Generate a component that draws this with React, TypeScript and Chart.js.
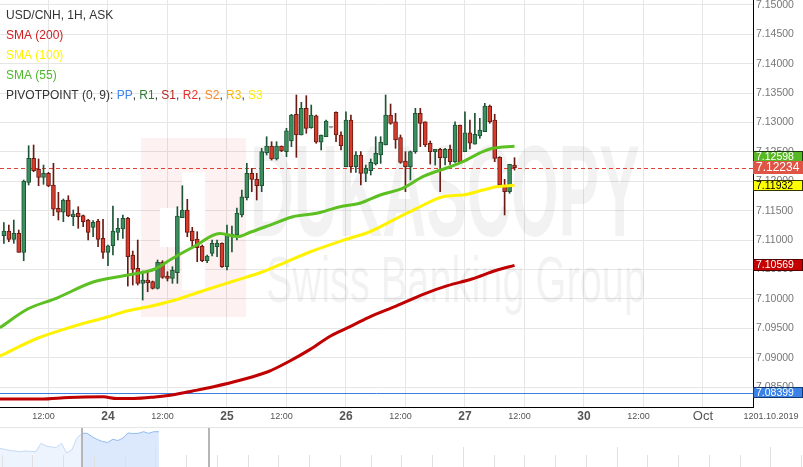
import React, { useEffect, useRef } from "react";
import { Chart, registerables } from "chart.js";
Chart.register(...registerables);

// ---------- data ----------
const FIRST_HOUR = 3; // trading hour index of first candle (23 Sep 03:00)
const opens = [
  7.11074, 7.11154, 7.11013, 7.11115, 7.10792, 7.11983, 7.12391, 7.12209, 7.12068, 7.12136,
  7.11937, 7.11541, 7.11473, 7.11682, 7.11398, 7.11456, 7.11415, 7.11341, 7.11217, 7.11325,
  7.11030, 7.10792, 7.10904, 7.11132, 7.11188, 7.11370, 7.10746, 7.10520, 7.10264, 7.10321,
  7.10292, 7.10179, 7.10622, 7.10389, 7.10349, 7.10445, 7.11381, 7.11512, 7.11154, 7.11018,
  7.10899, 7.10649, 7.10775, 7.10887, 7.10945, 7.10547, 7.11052, 7.11086, 7.11427, 7.11721,
  7.12136, 7.12034, 7.11925, 7.12487, 7.12601, 7.12380, 7.12601, 7.12504, 7.12686, 7.13140,
  7.12788, 7.13242, 7.12912, 7.13116, 7.12664, 7.12759, 7.12919, 7.13174, 7.12788, 7.12248,
  7.13043, 7.12248, 7.12448, 7.12136, 7.12180, 7.12294, 7.12448, 7.12618, 7.13128, 7.13014,
  7.12742, 7.12345, 7.12248, 7.12504, 7.13157, 7.13014, 7.12647, 7.12504, 7.12545, 7.12402,
  7.12545, 7.12334, 7.12958, 7.12504, 7.12827, 7.12630, 7.12771, 7.12844, 7.13281, 7.13043,
  7.12408, 7.11937, 7.11823, 7.12277,
];
const highs = [
  7.11296, 7.11256, 7.11341, 7.11171, 7.12022, 7.12606, 7.12618, 7.12380, 7.12277, 7.12153,
  7.12306, 7.11813, 7.11699, 7.11755, 7.11512, 7.11568, 7.11427, 7.11353, 7.11330, 7.11353,
  7.11353, 7.10916, 7.11580, 7.11370, 7.11427, 7.11387, 7.10814, 7.11001, 7.10474, 7.10474,
  7.10304, 7.10661, 7.10649, 7.10462, 7.10547, 7.11568, 7.11925, 7.11694, 7.11217, 7.11142,
  7.10916, 7.10746, 7.11001, 7.11001, 7.10955, 7.11256, 7.11239, 7.11546, 7.11852, 7.12306,
  7.12221, 7.12136, 7.12562, 7.12759, 7.12674, 7.12674, 7.12601, 7.12902, 7.13140, 7.13469,
  7.13344, 7.13457, 7.13298, 7.13128, 7.12788, 7.13043, 7.12930, 7.13184, 7.12844, 7.13184,
  7.13128, 7.12504, 7.12504, 7.12277, 7.12380, 7.12759, 7.12759, 7.13469, 7.13315, 7.13157,
  7.12788, 7.12504, 7.12516, 7.13242, 7.13242, 7.13014, 7.12686, 7.12545, 7.12562, 7.12562,
  7.12618, 7.13014, 7.12958, 7.13184, 7.13043, 7.13157, 7.13072, 7.13327, 7.13298, 7.13140,
  7.12419, 7.12034, 7.12289, 7.12402,
];
const lows = [
  7.10945, 7.10972, 7.10945, 7.10792, 7.10649, 7.11937, 7.12163, 7.11925, 7.11949, 7.11908,
  7.11415, 7.11341, 7.11313, 7.11398, 7.11245, 7.11200, 7.11228, 7.11001, 7.11057, 7.10887,
  7.10690, 7.10564, 7.10746, 7.11001, 7.11030, 7.10218, 7.10235, 7.10235, 7.09980, 7.10121,
  7.10167, 7.10167, 7.10349, 7.10304, 7.10264, 7.10264, 7.11381, 7.11057, 7.10860, 7.10632,
  7.10632, 7.10615, 7.10729, 7.10717, 7.10537, 7.10491, 7.10797, 7.11001, 7.11393, 7.11682,
  7.11823, 7.11682, 7.11823, 7.12448, 7.12362, 7.12362, 7.12504, 7.12419, 7.12589, 7.12408,
  7.12788, 7.12817, 7.12902, 7.12647, 7.12533, 7.12759, 7.12908, 7.12674, 7.12533, 7.12248,
  7.12153, 7.12153, 7.11937, 7.11993, 7.12107, 7.12277, 7.12306, 7.12618, 7.12970, 7.12562,
  7.12306, 7.11823, 7.12022, 7.12476, 7.12589, 7.12589, 7.12294, 7.12277, 7.11823, 7.12277,
  7.12289, 7.12323, 7.12323, 7.12504, 7.12550, 7.12630, 7.12732, 7.12844, 7.12987, 7.12334,
  7.11908, 7.11427, 7.11796, 7.12192,
];
const closes = [
  7.11154, 7.11013, 7.11115, 7.10792, 7.12005, 7.12391, 7.12180, 7.12068, 7.12136, 7.11920,
  7.11524, 7.11473, 7.11682, 7.11410, 7.11444, 7.11398, 7.11313, 7.11132, 7.11302, 7.11013,
  7.10792, 7.10904, 7.11154, 7.11200, 7.11370, 7.10717, 7.10503, 7.10264, 7.10321, 7.10275,
  7.10179, 7.10622, 7.10366, 7.10349, 7.10491, 7.11410, 7.11512, 7.11132, 7.10989, 7.10870,
  7.10649, 7.10729, 7.10945, 7.10945, 7.10547, 7.11086, 7.11103, 7.11461, 7.11738, 7.12136,
  7.12034, 7.11925, 7.12504, 7.12601, 7.12380, 7.12601, 7.12516, 7.12861, 7.13128, 7.12788,
  7.13242, 7.12902, 7.13128, 7.12664, 7.12788, 7.13026, 7.12919, 7.12788, 7.12606, 7.13043,
  7.12248, 7.12448, 7.12136, 7.12221, 7.12323, 7.12476, 7.12664, 7.13128, 7.12987, 7.12703,
  7.12323, 7.12248, 7.12504, 7.13157, 7.12987, 7.12618, 7.12504, 7.12545, 7.12402, 7.12545,
  7.12334, 7.12958, 7.12334, 7.12827, 7.12647, 7.12800, 7.12873, 7.13281, 7.13014, 7.12391,
  7.11937, 7.11823, 7.12289, 7.12234,
];

const sma55Hours = [2.2, 7.8, 13.7, 21, 28.6, 33.5, 36.9, 41.2, 46.6, 50.1, 52.8, 56.7, 61.3, 66.1, 70.8, 74.8, 78.9, 83.5, 87.5, 93, 95.6, 99.6, 101.6, 106];
const sma55Values = [7.09509, 7.09827, 7.10014, 7.10287, 7.10414, 7.10508, 7.10683, 7.10882, 7.11112, 7.11061, 7.11137, 7.11256, 7.11398, 7.11456, 7.11568, 7.11626, 7.11767, 7.11886, 7.12078, 7.12248, 7.12334, 7.12504, 7.12562, 7.12598];
const sma100Hours = [2.2, 9.9, 16.1, 23.8, 27.8, 32.8, 37.6, 43.2, 49.4, 55.1, 59.9, 64.7, 71.6, 76.8, 82.2, 86.3, 91.6, 95.6, 99.6, 102.4, 106];
const sma100Values = [7.09027, 7.09334, 7.09509, 7.09691, 7.09793, 7.09878, 7.0998, 7.10138, 7.10304, 7.10457, 7.10627, 7.10797, 7.11001, 7.11142, 7.1137, 7.11541, 7.11738, 7.11767, 7.11852, 7.11908, 7.11932];
const sma200Hours = [2.2, 10.5, 16.1, 23, 25.8, 29.2, 33.5, 36.9, 41.1, 45.3, 50.8, 56.4, 60.5, 64.7, 68.9, 72.4, 76.5, 82.1, 87.7, 92.5, 97.4, 102.2, 106];
const sma200Values = [7.08296, 7.08296, 7.08323, 7.08333, 7.08304, 7.08304, 7.0833, 7.08364, 7.08432, 7.08505, 7.08619, 7.08764, 7.08935, 7.09136, 7.09368, 7.09509, 7.09681, 7.09878, 7.10082, 7.10224, 7.10338, 7.10482, 7.10569];

const yTickValues = [7.085, 7.09, 7.095, 7.1, 7.105, 7.11, 7.115, 7.12, 7.125, 7.13, 7.135, 7.14, 7.145, 7.15];
const xTickHours = [12, 24, 36, 48, 60, 72, 84, 96, 108, 120, 132, 144];
const xTickLabels = ["12:00", "24", "12:00", "25", "12:00", "26", "12:00", "27", "12:00", "30", "12:00", "Oct"];

const lastPrice = 7.12234;
const pivotPP = 7.08399;
const sma55Last = 7.12598;
const sma100Last = 7.11932;
const sma200Last = 7.10569;

const navLevels = [18.7, 17.5, 16.5, 16, 15.3, 16, 15.5, 15.3, 23.7, 21, 20, 19.5, 23.7, 14, 17, 29, 33.7, 33.7, 30.3, 27.5, 25.5, 24.5, 27.7, 26.5, 29, 34, 33.5, 33.7, 35.3, 33.7, 35.3, 35.3];
const NAV_SPLIT = 16;

const X_MIN = 2.22, X_MAX = 154.1, Y_MIN = 7.0816, Y_MAX = 7.15085;
const FONT = "'Liberation Sans', Arial, sans-serif";

const GREEN_FILL = "#3b8f5e", GREEN_EDGE = "#1d5435";
const RED_FILL = "#d63b2b", RED_EDGE = "#6a1a12";

// ---------- plugins ----------
const backgroundPlugin = {
  id: "bgMarks",
  beforeDatasetsDraw(chart: any) {
    const { ctx, chartArea: a, scales } = chart;
    ctx.save();
    ctx.beginPath();
    ctx.rect(a.left, a.top, a.right - a.left, a.bottom - a.top);
    ctx.clip();
    // watermark logo
    ctx.fillStyle = "rgba(225,70,60,0.07)";
    ctx.fillRect(141, 138, 105, 179);
    ctx.fillStyle = "#ffffff";
    ctx.fillRect(182, 172, 23, 118);
    ctx.fillRect(160, 208, 22, 39);
    // watermark text
    ctx.fillStyle = "rgba(0,0,0,0.05)";
    ctx.textBaseline = "alphabetic";
    ctx.font = `bold 130px ${FONT}`;
    let w = ctx.measureText("DUKASCOPY").width;
    ctx.save();
    ctx.translate(250, 236);
    ctx.scale(390 / w, 1);
    ctx.fillText("DUKASCOPY", 0, 0);
    ctx.restore();
    ctx.font = `64px ${FONT}`;
    w = ctx.measureText("Swiss Banking Group").width;
    ctx.save();
    ctx.translate(266, 302);
    ctx.scale(380 / w, 1);
    ctx.fillText("Swiss Banking Group", 0, 0);
    ctx.restore();
    // pivot line
    const yP = Math.round(scales.y.getPixelForValue(pivotPP)) + 0.5;
    ctx.strokeStyle = "#3c7fe0";
    ctx.lineWidth = 1;
    ctx.beginPath();
    ctx.moveTo(a.left, yP);
    ctx.lineTo(a.right, yP);
    ctx.stroke();
    // current price dashed line
    const yL = Math.round(scales.y.getPixelForValue(lastPrice)) + 0.5;
    ctx.strokeStyle = "#e0402f";
    ctx.setLineDash([4, 3]);
    ctx.beginPath();
    ctx.moveTo(a.left, yL);
    ctx.lineTo(a.right, yL);
    ctx.stroke();
    ctx.restore();
  },
};

const overlayPlugin = {
  id: "overlay",
  afterDraw(chart: any) {
    const { ctx, scales, chartArea: a } = chart;
    ctx.save();
    // legend
    ctx.textBaseline = "middle";
    ctx.textAlign = "left";
    ctx.font = `12px ${FONT}`;
    const lines: [string, string][][] = [
      [["USD/CNH, 1H, ASK", "#333333"]],
      [["SMA (200)", "#cc1f1f"]],
      [["SMA (100)", "#fff200"]],
      [["SMA (55)", "#4fb82a"]],
      [
        ["PIVOTPOINT (0, 9): ", "#333333"], ["PP", "#3d85e6"], [", ", "#333333"], ["R1", "#2e7d32"],
        [", ", "#333333"], ["S1", "#b3261e"], [", ", "#333333"], ["R2", "#e8312a"], [", ", "#333333"],
        ["S2", "#f7862a"], [", ", "#333333"], ["R3", "#f9b800"], [", ", "#333333"], ["S3", "#ffee00"],
      ],
    ];
    const ys = [15.5, 35.5, 56, 76, 96];
    lines.forEach((parts, li) => {
      let x = 6;
      parts.forEach(([t, c]) => {
        ctx.fillStyle = c;
        ctx.fillText(t, x, ys[li]);
        x += ctx.measureText(t).width;
      });
    });
    // right value tags
    const y = scales.y;
    const left = a.right;
    const priceY = y.getPixelForValue(lastPrice);
    const tag = (cy: number, h: number, text: string, bg: string, fg: string, border: string | null, size: number) => {
      const top = Math.round(cy - h / 2);
      ctx.fillStyle = bg;
      ctx.fillRect(left, top, 50, h);
      if (border) {
        ctx.strokeStyle = border;
        ctx.lineWidth = 1;
        ctx.strokeRect(left + 0.5, top + 0.5, 49, h - 1);
      }
      ctx.fillStyle = fg;
      ctx.font = `${size}px ${FONT}`;
      ctx.textAlign = "left";
      ctx.textBaseline = "middle";
      ctx.fillText(text, left + 3, top + h / 2 + 0.5);
    };
    tag(priceY - 6.5 - 5, 11, sma55Last.toFixed(5), "#58b823", "#ffffff", "#1e3a10", 10.5);
    tag(y.getPixelForValue(sma100Last), 11, sma100Last.toFixed(5), "#ffff00", "#000000", "#333300", 10.5);
    tag(y.getPixelForValue(sma200Last), 12, sma200Last.toFixed(5), "#c40000", "#ffffff", "#500000", 10.5);
    tag(y.getPixelForValue(pivotPP), 11, pivotPP.toFixed(5), "#3a82e8", "#ffffff", "#123a70", 10.5);
    tag(priceY, 13, lastPrice.toFixed(5), "#df5444", "#ffffff", null, 12);
    // date label at right of time axis
    ctx.fillStyle = "#555555";
    ctx.font = `9px ${FONT}`;
    ctx.textAlign = "center";
    ctx.textBaseline = "middle";
    ctx.fillText("1201.10.2019", 771, 416.5);
    ctx.restore();
  },
};

const navPlugin = {
  id: "navDeco",
  afterDraw(chart: any) {
    const { ctx, width, height } = chart;
    ctx.save();
    ctx.strokeStyle = "#e6e6e6";
    ctx.lineWidth = 1;
    ctx.beginPath();
    ctx.moveTo(0, 0.5);
    ctx.lineTo(width, 0.5);
    ctx.stroke();
    ctx.strokeStyle = "#e0e0e0";
    for (let k = 0; k < 27; k++) {
      const x = Math.round(1.7 + k * 30.75) + 0.5;
      const tall = k === 5 || k === 15 || k === 20 || k === 25;
      ctx.beginPath();
      ctx.moveTo(x, tall ? 20 : 28);
      ctx.lineTo(x, height);
      ctx.stroke();
    }
    ctx.strokeStyle = "#b5b5b5";
    ctx.lineWidth = 2;
    [82, 209].forEach((x) => {
      ctx.beginPath();
      ctx.moveTo(x, 1);
      ctx.lineTo(x, height);
      ctx.stroke();
    });
    ctx.restore();
  },
};

// ---------- component ----------
export default function App() {
  const mainRef = useRef<HTMLCanvasElement>(null);
  const navRef = useRef<HTMLCanvasElement>(null);

  useEffect(() => {
    const hours = opens.map((_, i) => FIRST_HOUR + i);
    const up = opens.map((o, i) => closes[i] > o);
    const doji = opens.map((o, i) => closes[i] === o);
    const fillC = up.map((u, i) => (doji[i] ? "#999999" : u ? GREEN_FILL : RED_FILL));
    const edgeC = up.map((u, i) => (doji[i] ? "#999999" : u ? GREEN_EDGE : RED_EDGE));

    const main = new Chart(mainRef.current!, {
      type: "bar",
      data: {
        datasets: [
          {
            type: "line",
            data: sma55Hours.map((h, i) => ({ x: h, y: sma55Values[i] })),
            borderColor: "#5cbf22",
            borderWidth: 3,
            pointRadius: 0,
            cubicInterpolationMode: "monotone",
            order: 0,
          } as any,
          {
            type: "line",
            data: sma100Hours.map((h, i) => ({ x: h, y: sma100Values[i] })),
            borderColor: "#fff200",
            borderWidth: 3,
            pointRadius: 0,
            cubicInterpolationMode: "monotone",
            order: 1,
          } as any,
          {
            type: "line",
            data: sma200Hours.map((h, i) => ({ x: h, y: sma200Values[i] })),
            borderColor: "#c00000",
            borderWidth: 3,
            pointRadius: 0,
            cubicInterpolationMode: "monotone",
            order: 2,
          } as any,
          {
            type: "bar",
            data: hours.map((h, i) => ({ x: h, y: [opens[i], closes[i]] })),
            backgroundColor: fillC,
            borderColor: edgeC,
            borderWidth: 1,
            borderSkipped: false,
            barThickness: 4,
            minBarLength: 1,
            grouped: false,
            order: 3,
          } as any,
          {
            type: "bar",
            data: hours.map((h, i) => ({ x: h, y: [lows[i], highs[i]] })),
            backgroundColor: edgeC,
            borderWidth: 0,
            barThickness: 1,
            grouped: false,
            order: 4,
          } as any,
        ],
      },
      options: {
        animation: false,
        responsive: false,
        devicePixelRatio: 1,
        layout: { padding: 0 },
        plugins: { legend: { display: false }, tooltip: { enabled: false } },
        scales: {
          x: {
            type: "linear",
            min: X_MIN,
            max: X_MAX,
            offset: false,
            afterBuildTicks: (s: any) => {
              s.ticks = xTickHours.map((v) => ({ value: v }));
            },
            afterFit: (s: any) => {
              s.height = 20;
              s.paddingLeft = 0;
              s.paddingRight = 0;
            },
            grid: { color: "#e6e6e6", drawTicks: false, offset: false },
            border: { color: "#000000", width: 1 },
            ticks: {
              autoSkip: false,
              maxRotation: 0,
              padding: 4,
              color: "#555555",
              callback: (v: any) => {
                const lab = xTickLabels[xTickHours.indexOf(v)] ?? "";
                return lab === "12:00" ? lab + "    " : lab;
              },
              font: (c: any) => {
                const i = xTickHours.indexOf(c.tick?.value);
                const lab = xTickLabels[i] || "";
                if (lab === "12:00") return { family: FONT, size: 9 };
                if (lab === "Oct") return { family: FONT, size: 13, lineHeight: 10.8 / 13 };
                return { family: FONT, size: 12, weight: "bold", lineHeight: 0.9 };
              },
            },
          } as any,
          y: {
            type: "linear",
            position: "right",
            min: Y_MIN,
            max: Y_MAX,
            afterBuildTicks: (s: any) => {
              s.ticks = yTickValues.map((v) => ({ value: v }));
            },
            afterFit: (s: any) => {
              s.width = 50;
              s.paddingTop = 0;
              s.paddingBottom = 0;
            },
            grid: { color: "#e6e6e6", drawTicks: false },
            border: { color: "#000000", width: 1 },
            ticks: {
              padding: 3,
              color: "#777777",
              font: { family: FONT, size: 10.5 },
              callback: (v: any) => Number(v).toFixed(5),
            },
          } as any,
        },
      },
      plugins: [backgroundPlugin, overlayPlugin],
    });

    const navIdx = navLevels.map((_, i) => i);
    const nav = new Chart(navRef.current!, {
      type: "line",
      data: {
        datasets: [
          {
            data: navIdx.map((i) => ({ x: i, y: i <= NAV_SPLIT ? navLevels[i] : null })),
            borderColor: "#c4d9f7",
            backgroundColor: "#eef4fd",
            borderWidth: 1,
            pointRadius: 0,
            fill: "start",
            spanGaps: false,
          },
          {
            data: navIdx.map((i) => ({ x: i, y: i >= NAV_SPLIT ? navLevels[i] : null })),
            borderColor: "#92b9f3",
            backgroundColor: "#dce9fc",
            borderWidth: 1,
            pointRadius: 0,
            fill: "start",
            spanGaps: false,
          },
        ],
      },
      options: {
        animation: false,
        responsive: false,
        devicePixelRatio: 1,
        layout: { padding: 0 },
        plugins: { legend: { display: false }, tooltip: { enabled: false } },
        scales: {
          x: { type: "linear", display: false, min: 0, max: 803 / (82 / NAV_SPLIT) },
          y: { display: false, min: 0, max: 40 },
        },
      },
      plugins: [navPlugin],
    });

    return () => {
      main.destroy();
      nav.destroy();
    };
  }, []);

  return (
    <div style={{ position: "fixed", left: 0, top: 0, width: 803, height: 467, background: "#fff" }}>
      <canvas ref={mainRef} width={803} height={427} style={{ position: "absolute", left: 0, top: 0 }} />
      <canvas ref={navRef} width={803} height={40} style={{ position: "absolute", left: 0, top: 427 }} />
    </div>
  );
}
